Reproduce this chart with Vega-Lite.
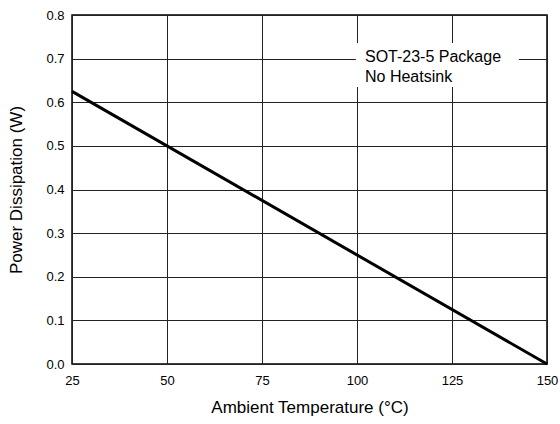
{
  "$schema": "https://vega.github.io/schema/vega-lite/v6.json",
  "width": 475,
  "height": 349,
  "autosize": {"type": "none"},
  "padding": {"left": 72, "top": 15, "right": 13, "bottom": 60},
  "background": "white",
  "config": {
    "font": "Liberation Sans",
    "view": {"stroke": "black", "strokeWidth": 1.5},
    "axis": {
      "domain": false,
      "ticks": false,
      "grid": true,
      "gridColor": "#222",
      "gridWidth": 1,
      "gridOpacity": 1,
      "labelFlush": false,
      "labelFont": "Liberation Sans",
      "labelFontSize": 13,
      "labelColor": "black",
      "titleFont": "Liberation Sans",
      "titleFontSize": 17,
      "titleFontWeight": "normal",
      "titleColor": "black"
    }
  },
  "datasets": {
    "curve": [
      {"temp": 25, "power": 0.625},
      {"temp": 150, "power": 0}
    ],
    "box": [
      {"x1": 99.7, "x2": 142.6, "y1": 0.635, "y2": 0.736}
    ],
    "label": [
      {"tx": 102.1, "ty": 0.692, "txt": "SOT-23-5 Package"},
      {"tx": 102.1, "ty": 0.646, "txt": "No Heatsink"}
    ]
  },
  "layer": [
    {
      "data": {"name": "curve"},
      "mark": {"type": "line", "color": "black", "strokeWidth": 3},
      "encoding": {
        "x": {
          "field": "temp",
          "type": "quantitative",
          "scale": {"domain": [25, 150], "nice": false, "zero": false},
          "axis": {
            "values": [25, 50, 75, 100, 125, 150],
            "title": "Ambient Temperature (°C)",
            "labelPadding": 10,
            "titlePadding": 12
          }
        },
        "y": {
          "field": "power",
          "type": "quantitative",
          "scale": {"domain": [0, 0.8], "nice": false},
          "axis": {
            "values": [0, 0.1, 0.2, 0.3, 0.4, 0.5, 0.6, 0.7, 0.8],
            "format": ".1f",
            "title": "Power Dissipation (W)",
            "labelPadding": 8,
            "titlePadding": 20
          }
        }
      }
    },
    {
      "data": {"name": "box"},
      "mark": {"type": "rect", "fill": "white", "stroke": null},
      "encoding": {
        "x": {"field": "x1", "type": "quantitative"},
        "x2": {"field": "x2"},
        "y": {"field": "y1", "type": "quantitative"},
        "y2": {"field": "y2"}
      }
    },
    {
      "data": {"name": "label"},
      "mark": {"type": "text", "align": "left", "baseline": "alphabetic", "fontSize": 16, "color": "black", "font": "Liberation Sans"},
      "encoding": {
        "x": {"field": "tx", "type": "quantitative"},
        "y": {"field": "ty", "type": "quantitative"},
        "text": {"field": "txt"}
      }
    }
  ]
}
